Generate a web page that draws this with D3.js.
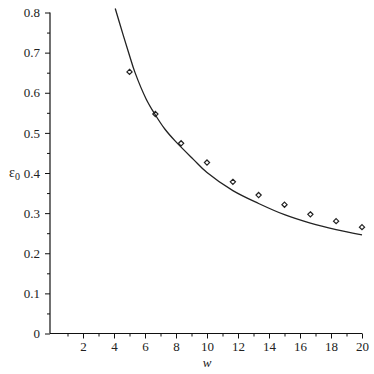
<!DOCTYPE html>
<html><head><meta charset="utf-8">
<script src="https://cdn.jsdelivr.net/npm/d3@7"></script>
<style>body{margin:0;background:#fff}svg{display:block}text{font-family:"Liberation Serif","Times New Roman",Times,serif}</style>
</head><body>
<svg id="c" width="374" height="374"></svg>
<script>
// Data
const curveW = [4.08, 4.56, 5.0, 5.34, 6.08, 6.63, 7.29, 7.94, 9.12, 10.0, 11.67, 13.33, 15.0, 16.67, 18.33, 20.0];
const curveE = [0.81, 0.748, 0.693, 0.652, 0.584, 0.547, 0.509, 0.480, 0.434, 0.401, 0.356, 0.324, 0.296, 0.275, 0.259, 0.246];
const pointW = [5, 6.67, 8.33, 10, 11.67, 13.33, 15, 16.67, 18.33, 20];
const pointE = [0.652, 0.547, 0.474, 0.426, 0.378, 0.345, 0.321, 0.297, 0.280, 0.265];
const xTicks = [2, 4, 6, 8, 10, 12, 14, 16, 18, 20];
const xMinor = [1, 3, 5, 7, 9, 11, 13, 15, 17, 19];
const yTicks = [0, 0.1, 0.2, 0.3, 0.4, 0.5, 0.6, 0.7, 0.8];
const yMinor = [0.05, 0.15, 0.25, 0.35, 0.45, 0.55, 0.65, 0.75];

const svg = d3.select("#c");
const font = "Liberation Serif";
const x = d3.scaleLinear().domain([0, 20]).range([52, 362]);
const y = d3.scaleLinear().domain([0, 0.8]).range([333.5, 12.5]);
const axisX = 50;

// x axis
const gx = svg.append("g").attr("transform", `translate(0,${y(0)})`);
gx.append("line").attr("x1", axisX).attr("x2", x(20)).attr("stroke", "#111").attr("stroke-width", 1.2);
gx.append("g").call(d3.axisBottom(x).tickValues(xTicks).tickSize(5).tickPadding(3).tickFormat(d3.format("d")));
gx.append("g").call(d3.axisBottom(x).tickValues(xMinor).tickSize(3).tickFormat(""));
gx.selectAll(".domain").remove();
gx.selectAll("line").attr("stroke", "#111");
gx.selectAll("g").attr("font-family", font);
gx.selectAll("text").attr("font-family", font).attr("font-size", 13).attr("fill", "#222");

// y axis
const gy = svg.append("g").attr("transform", `translate(${axisX},0)`);
gy.append("line").attr("y1", y(0)).attr("y2", y(0.8)).attr("stroke", "#111").attr("stroke-width", 1.2);
gy.append("g").call(d3.axisLeft(y).tickValues(yTicks).tickSize(5).tickPadding(5).tickFormat(d => d === 0 ? "0" : d3.format(".1f")(d)));
gy.append("g").call(d3.axisLeft(y).tickValues(yMinor).tickSize(3).tickFormat(""));
gy.selectAll(".domain").remove();
gy.selectAll("line").attr("stroke", "#111");
gy.selectAll("g").attr("font-family", font);
gy.selectAll("text").attr("font-family", font).attr("font-size", 13).attr("fill", "#222");

// curve
const curve = curveW.map((w, i) => [w, curveE[i]]);
svg.append("path").datum(curve)
  .attr("d", d3.line().x(d => x(d[0])).y(d => y(d[1])).curve(d3.curveCatmullRom))
  .attr("fill", "none").attr("stroke", "#222").attr("stroke-width", 1.3);

// points (diamonds)
const pts = pointW.map((w, i) => [w, pointE[i]]);
svg.append("g").selectAll("path").data(pts).join("path")
  .attr("transform", d => `translate(${x(d[0])},${y(d[1])})`)
  .attr("d", "M0,-2.6L2.6,0L0,2.6L-2.6,0Z")
  .attr("fill", "none").attr("stroke", "#222").attr("stroke-width", 1.2);

// axis labels
const yl = svg.append("text").attr("x", 9).attr("y", 177).attr("font-family", font).attr("font-size", 14).attr("fill", "#222");
yl.append("tspan").text("ε");
yl.append("tspan").attr("font-size", 10).attr("dy", 3).text("0");
svg.append("text").attr("x", x(10)).attr("y", 367).attr("text-anchor", "middle")
  .attr("font-family", font).attr("font-style", "italic").attr("font-size", 13).attr("fill", "#222").text("w");
</script>
</body></html>
